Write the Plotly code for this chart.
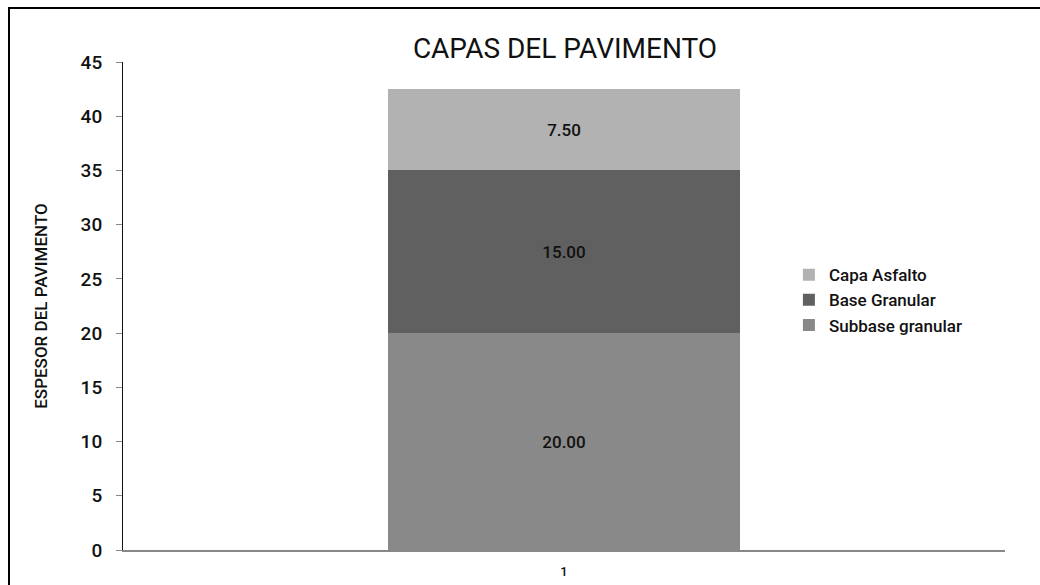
import plotly.graph_objects as go

categories = ["1"]
series_names = ["Subbase granular", "Base Granular", "Capa Asfalto"]
subbase = [20.0]
base = [15.0]
asfalto = [7.5]
colors = ["#898989", "#606060", "#B2B2B2"]
y_ticks = [0, 5, 10, 15, 20, 25, 30, 35, 40, 45]

FONT = "Roboto"

fig = go.Figure()
for name, vals, col in zip(series_names, [subbase, base, asfalto], colors):
    fig.add_trace(go.Bar(
        x=categories, y=vals, name=name,
        marker=dict(color=col, line=dict(width=0)),
        width=0.4,
        texttemplate="%{y:.2f}", textposition="inside",
        insidetextanchor="middle",
        textfont=dict(color="#111111", size=17, family=FONT, weight=500),
    ))

fig.update_layout(
    barmode="stack",
    width=1040, height=585,
    margin=dict(l=123, r=35, t=62, b=35),
    paper_bgcolor="white", plot_bgcolor="white",
    font=dict(family=FONT, color="#111111"),
    title=dict(text="CAPAS DEL PAVIMENTO", x=565 / 1040, xanchor="center",
               y=1 - 48 / 585, yanchor="middle",
               font=dict(size=28, color="#111111", family=FONT)),
    legend=dict(x=0.755, y=0.512, xanchor="left", yanchor="middle",
                traceorder="reversed", font=dict(size=17, color="#111111", weight=500),
                itemwidth=30, bgcolor="rgba(0,0,0,0)"),
    showlegend=True,
    uniformtext=dict(minsize=10, mode="show"),
)
fig.update_yaxes(
    range=[0, 45], tickvals=y_ticks, ticks="outside", ticklen=6,
    tickcolor="#888888", showline=True, linecolor="#111111", linewidth=1,
    showgrid=False, zeroline=False, ticklabelstandoff=10, automargin=False,
    tickfont=dict(size=19, color="#111111", weight=500),
    title=dict(text="ESPESOR DEL PAVIMENTO",
               font=dict(size=17, color="#111111", weight=500), standoff=28),
)
fig.update_xaxes(
    range=[-0.5, 0.5], showline=True, linecolor="#888888", linewidth=2,
    showgrid=False, zeroline=False, ticks="", ticklabelstandoff=8, automargin=False,
    tickfont=dict(size=13, color="#111111", weight=500),
)
fig.add_shape(type="rect", xref="paper", yref="paper",
              x0=(9 - 123) / 882, x1=1.2, y0=-0.3, y1=(550 - 8) / 488,
              line=dict(color="#000000", width=2), fillcolor="rgba(0,0,0,0)", layer="below")

fig.write_html("out.html")
